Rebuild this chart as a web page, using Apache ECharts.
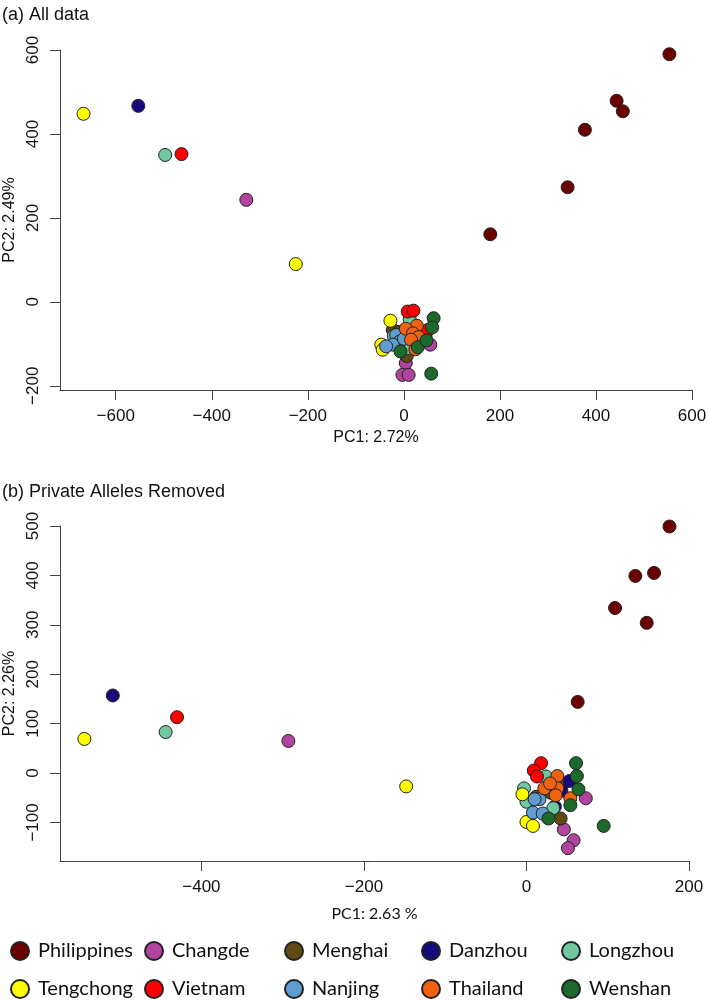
<!DOCTYPE html>
<html><head><meta charset="utf-8">
<script src="https://cdn.jsdelivr.net/npm/echarts@6/dist/echarts.min.js"></script>
<style>html,body{margin:0;padding:0;background:#fff}#c{width:709px;height:1000px}</style>
</head><body><div id="c"></div>
<script>
const populations = ['Philippines','Changde','Menghai','Danzhou','Longzhou','Tengchong','Vietnam','Nanjing','Thailand','Wenshan'];

// Panel (a) All data: [PC1, PC2]
const philippinesA = [[553,590],[443,479],[456,454],[377,410],[341,273],[180,161]];
const changdeA     = [[-328,243],[55,-102],[4,-146],[-3,-174],[10,-174]];
const menghaiA     = [[-23,-67],[6,-129],[-10,-72]];
const danzhouA     = [[-553,467],[45,-83]];
const longzhouA    = [[-497,350],[12,-41],[-21,-81],[7,-110]];
const tengchongA   = [[-667,448],[-225,90],[-28,-45],[-47,-102],[-44,-114]];
const vietnamA     = [[-463,352],[8,-23],[20,-21],[50,-67]];
const nanjingA     = [[-16,-79],[-9,-95],[-23,-102],[-37,-106],[0,-88]];
const thailandA    = [[27,-57],[4,-64],[19,-75],[31,-84],[15,-90],[24,-113]];
const wenshanA     = [[62,-39],[59,-61],[-7,-118],[29,-108],[47,-92],[57,-171]];

// Panel (b) Private Alleles Removed: [PC1, PC2]
const philippinesB = [[176,499],[157,405],[134,399],[109,334],[148,304],[63,144]];
const changdeB     = [[-293,65],[73,-51],[46,-114],[58,-136],[51,-152]];
const menghaiB     = [[45,-21],[12,-48],[42,-92],[30,-40]];
const danzhouB     = [[-509,157],[53,-16],[43,-36],[35,-68]];
const longzhouB    = [[-444,83],[24,-7],[-3,-31],[0,-58],[33,-71]];
const tengchongB   = [[-544,69],[-148,-27],[-5,-43],[0,-99],[8,-107]];
const vietnamB     = [[-430,113],[18,20],[9,5],[13,-7]];
const nanjingB     = [[16,-53],[10,-53],[8,-80],[20,-82]];
const thailandB    = [[38,-6],[22,-31],[38,-31],[36,-45],[54,-51],[29,-21]];
const wenshanB     = [[61,20],[62,-6],[64,-33],[54,-65],[27,-92],[95,-107]];

const ticksAX = [-600,-400,-200,0,200,400,600];
const ticksAY = [-200,0,200,400,600];
const ticksBX = [-400,-200,0,200];
const ticksBY = [-100,0,100,200,300,400,500];

const dataA = [philippinesA,changdeA,menghaiA,danzhouA,longzhouA,tengchongA,vietnamA,nanjingA,thailandA,wenshanA];
const dataB = [philippinesB,changdeB,menghaiB,danzhouB,longzhouB,tengchongB,vietnamB,nanjingB,thailandB,wenshanB];

const palette = ['#6b0000','#b0449e','#5e4a12','#16097c','#6fc8a0','#ffff00','#ff0000','#5f9dd0','#f0620f','#1c6a2b'];

const fmt = v => v < 0 ? '\u2212' + Math.abs(v) : String(v);
const axisCol = '#444';
function xAx(gi, min, max, ticks, name, nameGap, nameFont) {
  return {type:'value', gridIndex:gi, min, max,
    axisLine:{show:true, onZero:false, lineStyle:{color:axisCol, width:1}},
    axisTick:{show:true, length:10, customValues:ticks, lineStyle:{color:axisCol}},
    axisLabel:{customValues:ticks, margin:18, color:'#111', fontFamily:'Liberation Sans', fontSize:17, formatter:fmt},
    splitLine:{show:false},
    name, nameLocation:'middle', nameGap, nameTextStyle:{color:'#111', fontSize:16, fontFamily:nameFont}};
}
function yAx(gi, min, max, ticks, name) {
  return {type:'value', gridIndex:gi, min, max,
    axisLine:{show:true, onZero:false, lineStyle:{color:axisCol, width:1}},
    axisTick:{show:true, length:10, customValues:ticks, lineStyle:{color:axisCol}},
    axisLabel:{customValues:ticks, margin:18, rotate:90, color:'#111', fontFamily:'Liberation Sans', fontSize:17, formatter:fmt},
    splitLine:{show:false},
    name, nameLocation:'middle', nameGap:41, nameTextStyle:{color:'#111', fontSize:16, fontFamily:'Liberation Sans'}};
}

const series = [];
populations.forEach((p, i) => {
  series.push({type:'scatter', name:p, xAxisIndex:0, yAxisIndex:0, data:dataA[i], symbol:'circle', symbolSize:13,
    itemStyle:{color:palette[i], borderColor:'#222', borderWidth:1, opacity:1}, emphasis:{disabled:true}});
  series.push({type:'scatter', name:p, xAxisIndex:1, yAxisIndex:1, data:dataB[i], symbol:'circle', symbolSize:13,
    itemStyle:{color:palette[i], borderColor:'#222', borderWidth:1, opacity:1}, emphasis:{disabled:true}});
});

const colLeft = [10, 144, 284, 421, 561];
const legends = colLeft.map((l, k) => ({
  data:[populations[k], populations[k+5]], orient:'vertical', left:l, top:941, padding:0,
  itemWidth:18, itemHeight:18, itemGap:18, icon:'circle', selectedMode:false,
  textStyle:{fontFamily:'Lato', fontSize:20, color:'#111', lineHeight:18, padding:[0,0,0,4]}
}));

const chart = echarts.init(document.getElementById('c'), null, {renderer:'canvas'});
chart.setOption({
  animation:false,
  backgroundColor:'#fff',
  title:[
    {text:'(a) All data', left:2, top:6, padding:0, textStyle:{fontSize:18, fontWeight:'normal', fontFamily:'Liberation Sans', color:'#111'}},
    {text:'(b) Private Alleles Removed', left:2, top:483, padding:0, textStyle:{fontSize:18, fontWeight:'normal', fontFamily:'Liberation Sans', color:'#111'}}
  ],
  legend:legends,
  grid:[
    {left:60, top:50, width:632, height:340, containLabel:false, outerBoundsMode:'none'},
    {left:60, top:526, width:629, height:335, containLabel:false, outerBoundsMode:'none'}
  ],
  xAxis:[
    xAx(0, -716, 600, ticksAX, 'PC1: 2.72%', 40, 'Liberation Sans'),
    xAx(1, -574, 200, ticksBX, 'PC1: 2.63 %', 45, 'Lato')
  ],
  yAxis:[
    yAx(0, -210, 600, ticksAY, 'PC2: 2.49%'),
    yAx(1, -178, 500, ticksBY, 'PC2: 2.26%')
  ],
  series
});
</script></body></html>
